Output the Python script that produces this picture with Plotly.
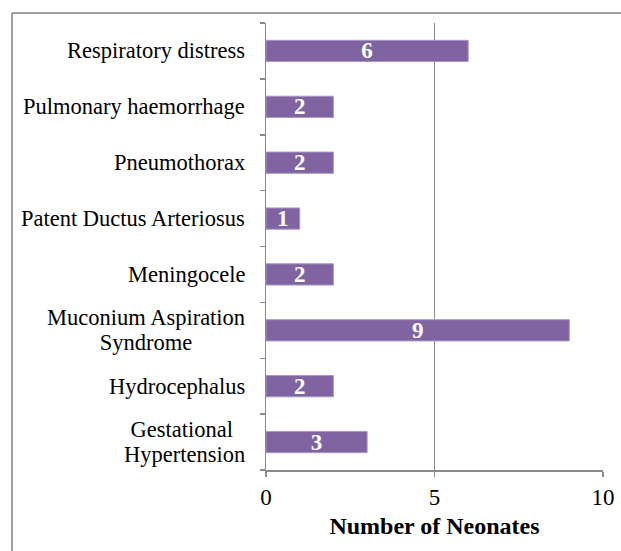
import plotly.graph_objects as go

categories = [
    "Gestational <br>Hypertension",
    "Hydrocephalus",
    "Muconium Aspiration<br>Syndrome",
    "Meningocele",
    "Patent Ductus Arteriosus",
    "Pneumothorax",
    "Pulmonary haemorrhage",
    "Respiratory distress",
]
values = [3, 2, 9, 2, 1, 2, 2, 6]
x_ticks = [0, 5, 10]

FONT = "Liberation Serif, Times New Roman, serif"
W, H = 621, 551
ML, MR, MT, MB = 266, 18, 23, 81
LABEL_PX = 22.5

fig = go.Figure(
    go.Bar(
        y=categories,
        x=values,
        orientation="h",
        marker=dict(color="#8064A2", line=dict(color="#a995c6", width=1)),
        text=[str(v) for v in values],
        textposition="inside",
        insidetextanchor="middle",
        textangle=0,
        constraintext="none",
        textfont=dict(family=FONT, size=23, color="white", weight="bold"),
        hoverinfo="skip",
    )
)

pw = W - ML - MR
ph = H - MT - MB

# category labels as annotations (centered multi-line, tight line spacing)
for cat in categories:
    lines = cat.split("<br>")
    txt = "<br>".join(f"<span style='font-size:{LABEL_PX}px'>{ln}</span>" for ln in lines)
    fig.add_annotation(
        x=(247 - ML) / pw, xref="paper", xanchor="right",
        y=cat, yref="y", yanchor="middle",
        text=txt, showarrow=False, align="center",
        font=dict(family=FONT, size=19.3, color="black"),
    )

# frame: top and left lines only
bx = (12 - ML) / pw
by = (H - MB - 13) / ph
fig.add_shape(type="line", xref="paper", yref="paper", x0=bx, x1=1.2, y0=by, y1=by,
              line=dict(color="#7f7f7f", width=1.5))
fig.add_shape(type="line", xref="paper", yref="paper", x0=bx, x1=bx, y0=by, y1=-0.3,
              line=dict(color="#7f7f7f", width=1.5))

fig.update_layout(
    width=W,
    height=H,
    margin=dict(l=ML, r=MR, t=MT, b=MB, autoexpand=False),
    paper_bgcolor="white",
    plot_bgcolor="white",
    bargap=0.62,
    showlegend=False,
    font=dict(family=FONT, color="black"),
    xaxis=dict(
        range=[0, 10],
        tickvals=x_ticks,
        ticktext=[str(t) for t in x_ticks],
        tickfont=dict(size=23, family=FONT, color="black"),
        ticklabelstandoff=1,
        showgrid=True,
        gridcolor="#8a8a8a",
        gridwidth=1.5,
        zeroline=False,
        showline=True,
        linecolor="#8a8a8a",
        linewidth=1.5,
        ticks="outside",
        ticklen=5,
        tickcolor="#8a8a8a",
        tickwidth=1.5,
        automargin=False,
        title=dict(text="<b>Number of Neonates</b>", font=dict(size=24, family=FONT, color="black"), standoff=8),
        fixedrange=True,
    ),
    yaxis=dict(
        type="category",
        showticklabels=False,
        showline=True,
        linecolor="#8a8a8a",
        linewidth=1.5,
        ticks="outside",
        tickson="boundaries",
        ticklen=5,
        tickcolor="#8a8a8a",
        tickwidth=1.5,
        showgrid=False,
        automargin=False,
        fixedrange=True,
    ),
)

fig.write_html(
    "out.html",
    config={"displayModeBar": False, "staticPlot": True},
    post_script="document.body.style.margin='0';document.body.style.overflow='hidden';",
)
